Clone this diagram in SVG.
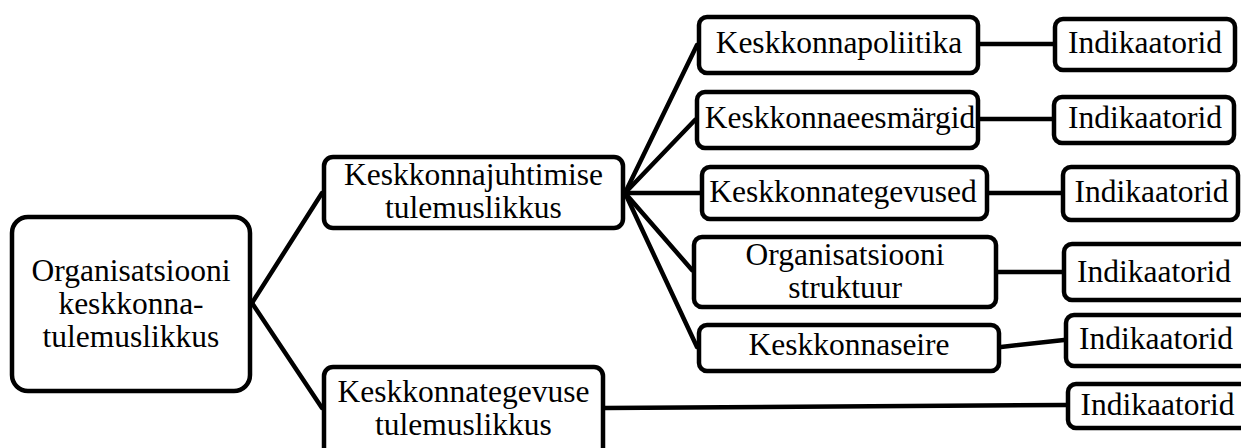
<svg xmlns="http://www.w3.org/2000/svg" width="1241" height="448" viewBox="0 0 1241 448">
<style>
.box{fill:#fff;stroke:#000;stroke-width:4.5}
.t{font-family:"Liberation Serif","Times New Roman",serif;font-size:31.5px;fill:#000;text-anchor:middle}
.c{stroke:#000;stroke-width:4.5;fill:none;stroke-linecap:round}
</style>
<rect width="1241" height="448" fill="#fff"/>
<g id="connectors">
<line class="c" x1="252" y1="303" x2="322" y2="193"/>
<line class="c" x1="252" y1="303" x2="322" y2="408"/>
<line class="c" x1="625" y1="193" x2="697" y2="45"/>
<line class="c" x1="625" y1="193" x2="695" y2="120"/>
<line class="c" x1="625" y1="193" x2="700" y2="193"/>
<line class="c" x1="625" y1="193" x2="692" y2="270"/>
<line class="c" x1="625" y1="193" x2="697" y2="347"/>
<line class="c" x1="980" y1="44" x2="1053" y2="44"/>
<line class="c" x1="980" y1="119" x2="1052" y2="119"/>
<line class="c" x1="989" y1="193" x2="1061" y2="193"/>
<line class="c" x1="998" y1="272" x2="1062" y2="272"/>
<line class="c" x1="1001" y1="347" x2="1064" y2="340"/>
<line class="c" x1="605" y1="408" x2="1066" y2="405"/>
</g>
<g id="root">
<rect class="box" x="12" y="217" width="238" height="174" rx="16"/>
<text class="t" x="131" y="281">Organisatsiooni</text>
<text class="t" x="131" y="314">keskkonna-</text>
<text class="t" x="131" y="347">tulemuslikkus</text>
</g>
<g id="juhtimine">
<rect class="box" x="324" y="157" width="299" height="71" rx="9"/>
<text class="t" x="473.5" y="185">Keskkonnajuhtimise</text>
<text class="t" x="473.5" y="218">tulemuslikkus</text>
</g>
<g id="tegevus">
<rect class="box" x="324" y="367" width="279" height="90" rx="9"/>
<text class="t" x="463.5" y="402">Keskkonnategevuse</text>
<text class="t" x="463.5" y="435">tulemuslikkus</text>
</g>
<g id="poliitika">
<rect class="box" x="699" y="17" width="279" height="56" rx="8"/>
<text class="t" x="839" y="53">Keskkonnapoliitika</text>
</g>
<g id="eesmargid">
<rect class="box" x="697" y="92" width="281" height="56" rx="8"/>
<text class="t" x="840" y="128">Keskkonnaeesmärgid</text>
</g>
<g id="tegevused">
<rect class="box" x="702" y="167" width="285" height="52" rx="8"/>
<text class="t" x="843" y="202">Keskkonnategevused</text>
</g>
<g id="struktuur">
<rect class="box" x="694" y="237" width="302" height="70" rx="8"/>
<text class="t" x="845" y="265">Organisatsiooni</text>
<text class="t" x="845" y="298">struktuur</text>
</g>
<g id="seire">
<rect class="box" x="699" y="325" width="300" height="46" rx="8"/>
<text class="t" x="849" y="355">Keskkonnaseire</text>
</g>
<g id="ind1">
<rect class="box" x="1055" y="19" width="180" height="51" rx="8"/>
<text class="t" x="1145" y="53">Indikaatorid</text>
</g>
<g id="ind2">
<rect class="box" x="1054" y="97" width="180" height="46" rx="8"/>
<text class="t" x="1145" y="128">Indikaatorid</text>
</g>
<g id="ind3">
<rect class="box" x="1063" y="167" width="175" height="53" rx="8"/>
<text class="t" x="1151.5" y="202">Indikaatorid</text>
</g>
<g id="ind4">
<rect class="box" x="1064" y="244" width="190" height="56" rx="8"/>
<text class="t" x="1154" y="282">Indikaatorid</text>
</g>
<g id="ind5">
<rect class="box" x="1066" y="315" width="190" height="51" rx="8"/>
<text class="t" x="1156" y="349">Indikaatorid</text>
</g>
<g id="ind6">
<rect class="box" x="1068" y="384" width="190" height="44" rx="8"/>
<text class="t" x="1157.5" y="415">Indikaatorid</text>
</g>
</svg>
